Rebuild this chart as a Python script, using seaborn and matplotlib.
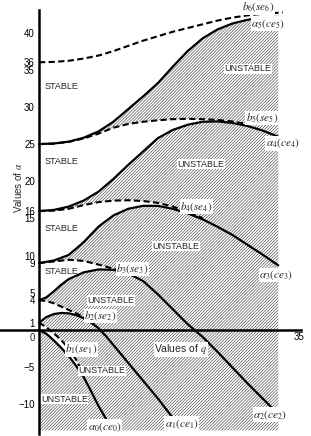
import matplotlib
matplotlib.use("Agg")
import matplotlib.pyplot as plt
import seaborn as sns

# characteristic curves of the Mathieu equation
q_a0 = [0, 1, 2, 3, 4, 5, 6, 7, 8, 9, 9.2]
a0 = [0.0, -0.5, -1.4, -2.4, -3.5, -4.8, -6.3, -8.2, -10.2, -11.9, -12.2]

q_b1 = [0, 1, 2, 3, 4, 5, 6]
b1 = [1.0, 0.35, -0.45, -1.35, -2.5, -4.0, -6.0]

q_a1 = [0, 1, 2, 3, 4, 5, 6, 7, 8, 9, 10, 12, 14, 16, 18, 18.3]
a1 = [1.0, 1.75, 2.15, 2.3, 2.25, 2.0, 1.6, 1.0, 0.25, -0.8, -2.0, -4.4, -6.8, -9.2, -11.8, -12.2]

q_b2 = [0, 1, 2, 3, 4, 5, 6, 7, 7.5]
b2 = [4.0, 3.9, 3.6, 3.15, 2.7, 2.25, 1.75, 1.1, 0.7]

q_a2 = [0, 1, 2, 3, 4, 6, 8, 10, 12, 14, 16, 18, 20, 22, 24, 26, 28, 30, 32.2]
a2 = [4.0, 4.4, 5.2, 6.1, 6.85, 7.75, 8.15, 8.1, 7.6, 6.6, 4.8, 2.8, 0.8, -0.9, -2.9, -5.0, -7.1, -9.1, -11.3]

q_b3 = [0, 2, 4, 6, 8, 10, 12]
b3 = [9.0, 9.22, 9.45, 9.3, 8.8, 8.25, 7.65]

q_a3 = [0, 2, 4, 6, 8, 10, 12, 14, 16, 18, 20, 22, 24, 26, 28, 30, 32.2]
a3 = [9.0, 9.35, 10.1, 11.8, 13.9, 15.4, 16.3, 16.7, 16.7, 16.3, 15.7, 14.9, 13.9, 12.8, 11.5, 10.2, 8.7]

q_b4 = [0, 2, 4, 6, 8, 10, 12, 14, 16, 18, 20, 22]
b4 = [16.0, 16.05, 16.3, 16.8, 17.2, 17.4, 17.45, 17.35, 17.1, 16.6, 15.9, 15.05]

q_a4 = [0, 2, 4, 6, 8, 10, 12, 14, 16, 18, 20, 22, 24, 26, 28, 30, 32.2]
a4 = [16.0, 16.15, 16.6, 17.4, 18.6, 20.3, 22.2, 24.0, 25.8, 26.9, 27.6, 28.0, 28.05, 27.85, 27.45, 26.85, 26.0]

q_b5 = [0, 2, 4, 6, 8, 10, 12, 14, 16, 18, 20, 22, 24, 26, 28]
b5 = [25.0, 25.06, 25.3, 25.75, 26.4, 27.2, 27.7, 28.0, 28.2, 28.35, 28.4, 28.35, 28.25, 28.05, 27.7]

q_a5 = [0, 2, 4, 6, 8, 10, 12, 14, 16, 18, 20, 22, 24, 26, 28, 30, 32.2]
a5 = [25.0, 25.08, 25.33, 25.85, 26.7, 28.0, 29.7, 31.4, 33.2, 35.4, 37.5, 39.2, 40.4, 41.2, 41.7, 42.0, 42.1]

q_b6 = [0, 2, 4, 6, 8, 10, 12, 14, 16, 18, 20, 22, 24, 26, 28, 30, 32.8]
b6 = [36.0, 36.05, 36.2, 36.5, 36.9, 37.5, 38.2, 38.9, 39.5, 40.1, 40.6, 41.1, 41.6, 42.0, 42.3, 42.5, 42.7]

y_ticks = [40, 36, 35, 30, 25, 20, 16, 15, 10, 9, 5, 4, 1, -5, -10]
x_ticks = [5, 10, 15, 20, 25, 30, 35]

sns.set_theme(style="white")
plt.rcParams['font.family'] = ['Liberation Sans', 'DejaVu Sans']
plt.rcParams['mathtext.fontset'] = 'stix'
plt.rcParams['hatch.linewidth'] = 0.4

fig = plt.figure(figsize=(3.11, 4.36), dpi=100)
ax = fig.add_axes([0, 1.8 / 436, 301 / 311, 424 / 436])
ax.set_xlim(-5.25, 35.26)
ax.set_ylim(-14.0, 43.0)

# unstable area: everything under a5, stable strips cut out afterwards
q_end = q_a5[-1]
ax.fill(q_a5 + [q_end, 0], a5 + [-13.5, -13.5], facecolor='white',
        edgecolor='#333333', hatch='/' * 11, lw=0, zorder=1)


def stable(qa, va, qb, vb):
    xs = [x for x in qa if x <= qb[-1]]
    ys = [v for x, v in zip(qa, va) if x <= qb[-1]]
    ax.fill(xs + qb[::-1], ys + vb[::-1], facecolor='white', edgecolor='none', zorder=2)


stable(q_a0, a0, q_b1, b1)
stable(q_a1, a1, q_b2, b2)
stable(q_a2, a2, q_b3, b3)
stable(q_a3, a3, q_b4, b4)
stable(q_a4, a4, q_b5, b5)

solid = [(q_a0, a0), (q_a1, a1), (q_a2, a2), (q_a3, a3), (q_a4, a4), (q_a5, a5)]
dashed = [(q_b1, b1), (q_b2, b2), (q_b3, b3), (q_b4, b4), (q_b5, b5), (q_b6, b6)]
for qq, vv in dashed:
    sns.lineplot(x=qq, y=vv, ax=ax, color='black', lw=1.5,
                 linestyle=(0, (3, 1.6)), zorder=3)
for qq, vv in solid:
    sns.lineplot(x=qq, y=vv, ax=ax, color='black', lw=1.6, zorder=3)

# axes through the origin
for s in ['top', 'right']:
    ax.spines[s].set_visible(False)
ax.spines['left'].set_position(('data', 0))
ax.spines['bottom'].set_position(('data', 0))
for s in ['left', 'bottom']:
    ax.spines[s].set_linewidth(1.8)
    ax.spines[s].set_color('black')
    ax.spines[s].set_zorder(5)
ax.set_yticks(y_ticks)
ax.set_xticks(x_ticks)
ax.tick_params(axis='both', direction='in', length=3, width=1, colors='black',
               labelsize=7)
ax.tick_params(axis='y', pad=3)
ax.tick_params(axis='x', pad=1.5)
ax.text(-0.5, -0.4, '0', ha='right', va='top', fontsize=7)

lab = dict(ha='center', va='center', fontsize=8, zorder=4,
           bbox=dict(facecolor='white', edgecolor='none', pad=0.3))
ax.text(29.5, 43.4, r'$b_6(se_6)$', **lab)
ax.text(30.8, 41.2, r'$\alpha_5(ce_5)$', **lab)
ax.text(30.0, 28.5, r'$b_5(se_5)$', **lab)
ax.text(32.8, 25.1, r'$\alpha_4(ce_4)$', **lab)
ax.text(21.2, 16.6, r'$b_4(se_4)$', **lab)
ax.text(31.9, 7.4, r'$\alpha_3(ce_3)$', **lab)
ax.text(12.6, 8.2, r'$b_3(se_3)$', **lab)
ax.text(8.3, 1.9, r'$b_2(se_2)$', **lab)
ax.text(5.7, -2.6, r'$b_1(se_1)$', **lab)
ax.text(8.8, -13.0, r'$\alpha_0(ce_0)$', **lab)
ax.text(19.2, -12.6, r'$\alpha_1(ce_1)$', **lab)
ax.text(31.1, -11.4, r'$\alpha_2(ce_2)$', **lab)

word = dict(ha='center', va='center', fontsize=6.5, zorder=4,
            bbox=dict(facecolor='white', edgecolor='none', pad=0.5))
for x, y in [(28.1, 35.1), (21.8, 22.3), (18.4, 11.3), (9.7, 4.0), (8.5, -5.5), (3.4, -9.3)]:
    ax.text(x, y, 'UNSTABLE', **word)
for y in [32.8, 22.6, 13.7, 7.9]:
    ax.text(0.8, y, 'STABLE', ha='left', va='center', fontsize=6.5, zorder=4)

ax.text(19.1, -2.6, r'Values of $q$', ha='center', va='center', fontsize=7.5, zorder=4,
        bbox=dict(facecolor='white', edgecolor='none', pad=0.5))
ax.text(-2.8, 19.2, r'Values of $\alpha$', ha='center', va='center', fontsize=7,
        rotation=90)

fig.savefig('out.png', dpi=100)
